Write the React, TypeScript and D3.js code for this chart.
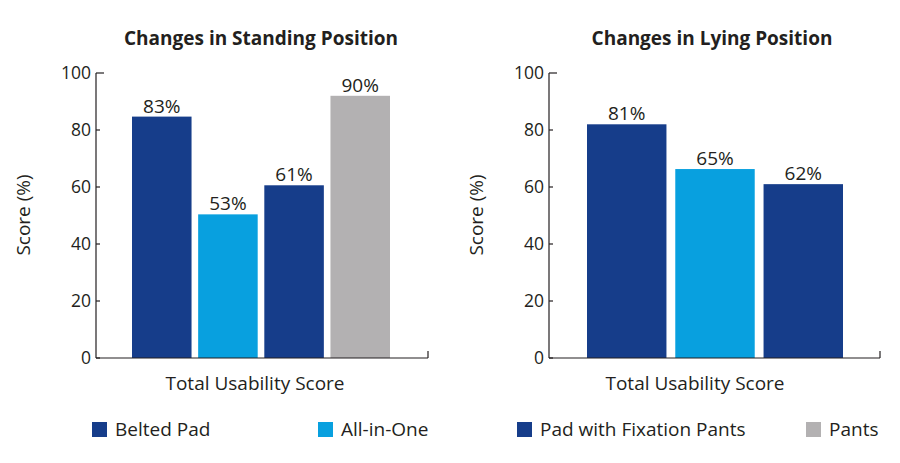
import React from "react";
import * as d3 from "d3";

// series (bar heights as drawn, labels as printed)
const legendItems = ["Belted Pad", "All-in-One", "Pad with Fixation Pants", "Pants"];
const standingCategories = ["Belted Pad", "All-in-One", "Pad with Fixation Pants", "Pants"];
const standingValues = [84.7, 50.4, 60.6, 92];
const standingLabels = ["83%", "53%", "61%", "90%"];
const lyingCategories = ["Belted Pad", "All-in-One", "Pad with Fixation Pants"];
const lyingValues = [82, 66.3, 61];
const lyingLabels = ["81%", "65%", "62%"];
const yTicks = [0, 20, 40, 60, 80, 100];

const COLORS: Record<string, string> = {
  "Belted Pad": "#163d8a",
  "All-in-One": "#08a0df",
  "Pad with Fixation Pants": "#163d8a",
  Pants: "#b3b1b2",
};

const FONT = "'Open Sans', Lato, sans-serif";
const TEXT = "#231f20";

interface PanelProps {
  title: string;
  categories: string[];
  values: number[];
  labels: string[];
  axisX: number;
  axisEnd: number;
  barRange: [number, number];
  titleX: number;
  xLabelX: number;
}

function Panel({ title, categories, values, labels, axisX, axisEnd, barRange, titleX, xLabelX }: PanelProps) {
  const y = d3.scaleLinear().domain([0, 100]).range([358, 73]);
  const x = d3.scaleBand<string>().domain(categories).range(barRange).paddingInner(0.1).paddingOuter(0);

  return (
    <g fontFamily={FONT} fill={TEXT}>
      <text x={titleX} y={45} textAnchor="middle" fontSize={19} fontWeight={700}>
        {title}
      </text>

      {/* bars */}
      {categories.map((c, i) => (
        <g key={c}>
          <rect
            x={x(c)}
            y={y(values[i])}
            width={x.bandwidth()}
            height={y(0) - y(values[i])}
            fill={COLORS[c]}
          />
          <text x={(x(c) || 0) + x.bandwidth() / 2} y={y(values[i]) - 4} textAnchor="middle" fontSize={19}>
            {labels[i]}
          </text>
        </g>
      ))}

      {/* y axis */}
      <line x1={axisX} x2={axisX} y1={y(100)} y2={y(0)} stroke={TEXT} strokeWidth={1.2} />
      {yTicks.map((t) => (
        <g key={t}>
          <line x1={axisX} x2={axisX + (t === 100 ? 8 : 4)} y1={y(t)} y2={y(t)} stroke={TEXT} strokeWidth={1.2} />
          <text x={axisX - 5} y={y(t)} dy="0.36em" textAnchor="end" fontSize={17.5}>
            {t}
          </text>
        </g>
      ))}
      {/* x axis */}
      <line x1={axisX} x2={axisEnd} y1={y(0)} y2={y(0)} stroke={TEXT} strokeWidth={1.2} />
      <line x1={axisEnd} x2={axisEnd} y1={y(0) - 7} y2={y(0)} stroke={TEXT} strokeWidth={1.2} />

      <text x={xLabelX} y={390} textAnchor="middle" fontSize={19}>
        Total Usability Score
      </text>
      <text
        transform={`translate(${axisX - 66},${215}) rotate(-90)`}
        textAnchor="middle"
        fontSize={19}
      >
        Score (%)
      </text>
    </g>
  );
}

const legendX = d3.scaleOrdinal<string, number>().domain(legendItems).range([92, 318, 517, 806]);

export default function App() {
  return (
    <svg
      width={900}
      height={463}
      style={{ position: "absolute", left: 0, top: 0, background: "#fff" }}
    >
      <Panel
        title="Changes in Standing Position"
        categories={standingCategories}
        values={standingValues}
        labels={standingLabels}
        axisX={96}
        axisEnd={428}
        barRange={[132, 390]}
        titleX={261}
        xLabelX={255}
      />
      <Panel
        title="Changes in Lying Position"
        categories={lyingCategories}
        values={lyingValues}
        labels={lyingLabels}
        axisX={549}
        axisEnd={880}
        barRange={[587, 843]}
        titleX={712}
        xLabelX={695}
      />
      {/* legend */}
      <g fontFamily={FONT} fill={TEXT}>
        {legendItems.map((d) => (
          <g key={d} transform={`translate(${legendX(d)},422)`}>
            <rect width={15} height={15} fill={COLORS[d]} />
            <text x={23} y={14} fontSize={19}>
              {d}
            </text>
          </g>
        ))}
      </g>
    </svg>
  );
}
